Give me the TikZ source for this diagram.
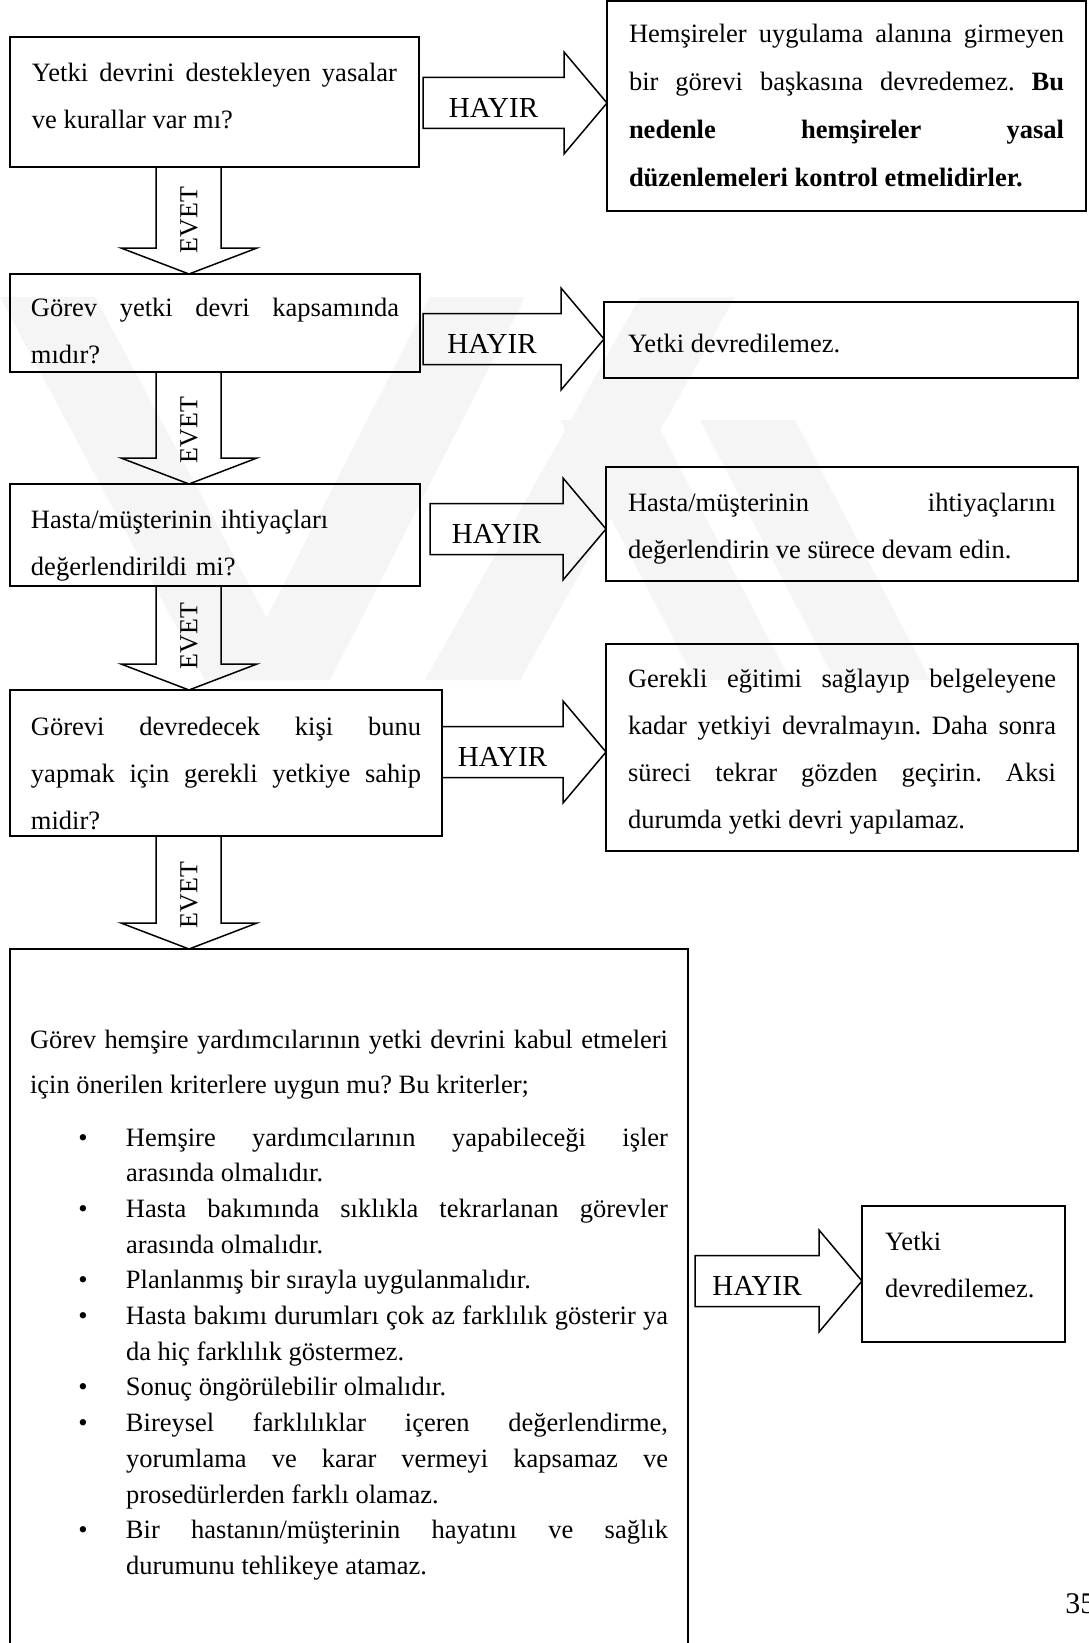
\documentclass[tikz,border=0pt]{standalone}
\usepackage{fontspec}
\setmainfont{Liberation Serif}
\usetikzlibrary{calc}

\newcommand{\kriter}[1]{\par\noindent\hangindent=48pt\hangafter=1\makebox[48pt][l]{\hspace{24.25pt}\textbullet}#1}

\newcommand{\evetok}[2]{%
  \draw[okgovde] (156,0 |- #1.south) -- ($(156,0 |- #2.north)+(0,-26)$) -- ($(121,0 |- #2.north)+(0,-26)$)
    -- (189,0 |- #2.north) -- ($(257,0 |- #2.north)+(0,-26)$) -- ($(221,0 |- #2.north)+(0,-26)$)
    -- (221,0 |- #1.south) -- cycle;
  \node[evetyazi] at ($(189,0 |- #2.north)+(0,-54)$) {EVET};}

\newcommand{\hayirok}[4]{%
  \draw[okgovde] ($(#1.east |- 0,#3)+(#4,-25.5)$) -- ($(#2.west |- 0,#3)+(-43,-25.5)$) -- ($(#2.west |- 0,#3)+(-43,-51)$)
    -- (#2.west |- 0,#3) -- ($(#2.west |- 0,#3)+(-43,51)$) -- ($(#2.west |- 0,#3)+(-43,25.5)$)
    -- ($(#1.east |- 0,#3)+(#4,25.5)$) -- cycle;
  \node[hayiryazi] at ($($(#1.east |- 0,#3)+(#4,5)$)!0.5!($(#2.west |- 0,#3)+(-43,5)$)$) {HAYIR};}

\tikzset{
  kutu/.style={draw, line width=0.9pt, anchor=north west, inner ysep=0pt, outer sep=0pt, align=justify,
    font=\fontsize{13.25}{23.5}\selectfont,
    execute at begin node={\frenchspacing\hyphenpenalty=10000\tolerance=10000}},
  okgovde/.style={draw, line width=0.75pt, line join=miter},
  evetyazi/.style={rotate=90, font=\fontsize{13}{15}\selectfont, inner sep=0pt},
  hayiryazi/.style={font=\fontsize{14.5}{16}\selectfont, inner sep=0pt},
  filigran/.style={fill=black!4, draw=none}
}

\begin{document}
\begin{tikzpicture}[x=0.5pt, y=-0.5pt]
  \useasboundingbox (0,0) rectangle (1088,1643);
  \fill[white] (0,0) rectangle (1088,1643);
  \clip (0,0) rectangle (1088,1643);

  \fill[filigran] (0,297) -- (95,297) -- (300,680) -- (205,680) -- cycle;
  \fill[filigran] (430,297) -- (525,297) -- (330,680) -- (235,680) -- cycle;
  \fill[filigran] (640,297) -- (735,297) -- (520,680) -- (425,680) -- cycle;
  \fill[filigran] (560,420) -- (655,420) -- (790,680) -- (695,680) -- cycle;
  \fill[filigran] (700,420) -- (795,420) -- (930,680) -- (835,680) -- cycle;

  \node[kutu, text width=182.5pt, inner xsep=11pt, text height=22.5pt, text depth=42.5pt] (yasa) at (10,37)
    {Yetki devrini destekleyen yasalar\linebreak ve kurallar var mı?};
  \node[kutu, text width=217.5pt, inner xsep=11pt, text height=21pt, text depth=84pt,
    font=\fontsize{13.25}{24}\selectfont] (yasason) at (607,1)
    {Hemşireler uygulama alanına girmeyen\linebreak bir görevi başkasına devredemez. \textbf{Bu\linebreak
     nedenle hemşireler yasal\linebreak düzenlemeleri kontrol etmelidirler.}};
  \node[kutu, text width=184pt, inner xsep=10.5pt, text height=21pt, text depth=28pt] (kapsam) at (10,274)
    {Görev yetki devri kapsamında\linebreak mıdır?};
  \node[kutu, text width=213pt, inner xsep=12pt, text height=25pt, text depth=13pt] (kapsamson) at (604,302)
    {Yetki devredilemez.};
  \node[kutu, align=left, text width=184pt, inner xsep=10.5pt, text height=22pt, text depth=29pt] (ihtiyac) at (10,484)
    {Hasta/müşterinin ihtiyaçları\\ değerlendirildi mi?};
  \node[kutu, text width=214pt, inner xsep=11pt, text height=22pt, text depth=35pt] (ihtiyacson) at (606,467)
    {Hasta/müşterinin ihtiyaçlarını\linebreak değerlendirin ve sürece devam edin.};
  \node[kutu, text width=214pt, inner xsep=11pt, text height=21.5pt, text depth=82pt] (yetkinson) at (606,644)
    {Gerekli eğitimi sağlayıp belgeleyene\linebreak kadar yetkiyi devralmayın. Daha sonra\linebreak
     süreci tekrar gözden geçirin. Aksi\linebreak durumda yetki devri yapılamaz.};
  \node[kutu, text width=195pt, inner xsep=10.5pt, text height=22.5pt, text depth=50.5pt] (yetkin) at (10,690)
    {Görevi devredecek kişi bunu\linebreak yapmak için gerekli yetkiye sahip\linebreak midir?};
  \node[kutu, text width=319pt, inner xsep=10pt, text height=49.5pt, text depth=330.5pt,
    font=\fontsize{13.25}{22.5}\selectfont] (kriterler) at (10,949)
    {Görev hemşire yardımcılarının yetki devrini kabul etmeleri\linebreak için önerilen kriterlere uygun mu? Bu kriterler;\par
     \vspace{8.65pt}\fontsize{13.25}{17.85}\selectfont
     \kriter{Hemşire yardımcılarının yapabileceği işler\linebreak arasında olmalıdır.}
     \kriter{Hasta bakımında sıklıkla tekrarlanan görevler\linebreak arasında olmalıdır.}
     \kriter{Planlanmış bir sırayla uygulanmalıdır.}
     \kriter{Hasta bakımı durumları çok az farklılık gösterir ya\linebreak da hiç farklılık göstermez.}
     \kriter{Sonuç öngörülebilir olmalıdır.}
     \kriter{Bireysel farklılıklar içeren değerlendirme,\linebreak yorumlama ve karar vermeyi kapsamaz ve\linebreak prosedürlerden farklı olamaz.}
     \kriter{Bir hastanın/müşterinin hayatını ve sağlık\linebreak durumunu tehlikeye atamaz.}\par};
  \node[kutu, align=left, text width=78.5pt, inner xsep=11.5pt, text height=22pt, text depth=46pt] (kriterson) at (862,1206)
    {Yetki\\ devredilemez.};

  \evetok{yasa}{kapsam}
  \evetok{kapsam}{ihtiyac}
  \evetok{ihtiyac}{yetkin}
  \evetok{yetkin}{kriterler}

  \hayirok{yasa}{yasason}{103}{4}
  \hayirok{kapsam}{kapsamson}{339}{3}
  \hayirok{ihtiyac}{ihtiyacson}{529}{10}
  \hayirok{yetkin}{yetkinson}{752}{0}
  \hayirok{kriterler}{kriterson}{1281}{7}

  \node[anchor=west, inner sep=0pt, font=\fontsize{15}{17}\selectfont] (sayfa) at (1065,1604) {35};
\end{tikzpicture}
\end{document}
